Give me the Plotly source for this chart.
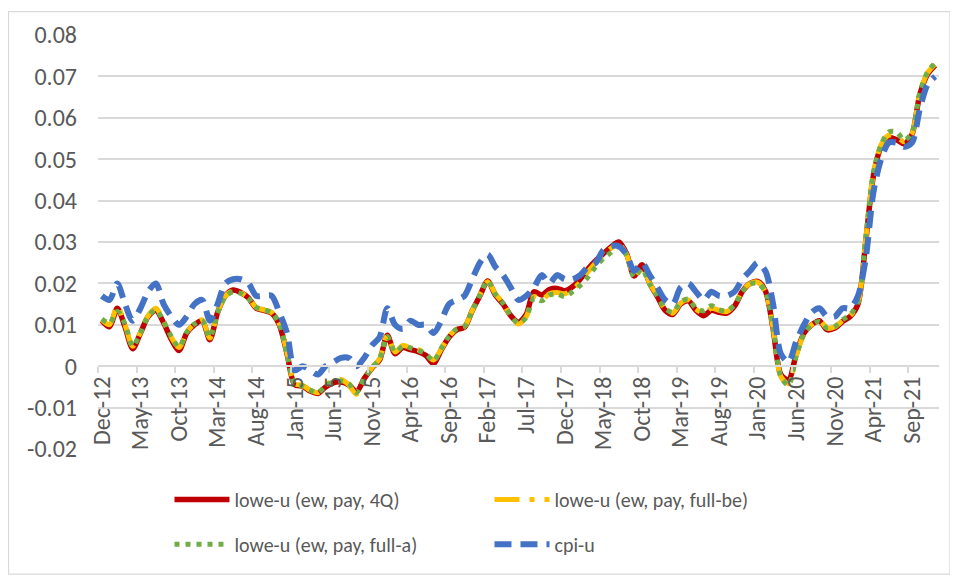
import pandas as pd
import plotly.graph_objects as go

# monthly categories, Dec-12 .. Dec-21
months = pd.date_range("2012-12-01", "2021-12-01", freq="MS").strftime("%b-%y").tolist()

lowe_4q = [
    0.0110, 0.0095, 0.0140, 0.0095, 0.0042, 0.0080, 0.0120, 0.0135, 0.0105, 0.0065, 0.0038, 0.0080, 0.0100,
    0.0110, 0.0064, 0.0130, 0.0170, 0.0184, 0.0178, 0.0165, 0.0140, 0.0135, 0.0128, 0.0100, 0.0030,
    -0.0045, -0.0048, -0.0060, -0.0066, -0.0050, -0.0040, -0.0038, -0.0045, -0.0062, -0.0030, -0.0005, 0.0015,
    0.0075, 0.0030, 0.0045, 0.0040, 0.0035, 0.0026, 0.0006, 0.0040, 0.0070, 0.0088, 0.0094, 0.0134,
    0.0170, 0.0206, 0.0172, 0.0150, 0.0122, 0.0106, 0.0125, 0.0180, 0.0172, 0.0185, 0.0188, 0.0182,
    0.0192, 0.0210, 0.0235, 0.0255, 0.0272, 0.0288, 0.0300, 0.0272, 0.0218, 0.0245, 0.0200, 0.0168,
    0.0135, 0.0125, 0.0150, 0.0158, 0.0135, 0.0122, 0.0135, 0.0130, 0.0128, 0.0145, 0.0180, 0.0200,
    0.0205, 0.0182, 0.0090, -0.0020, -0.0033, 0.0030, 0.0080, 0.0100, 0.0110, 0.0088, 0.0092, 0.0108,
    0.0120, 0.0150, 0.0300, 0.0460, 0.0530, 0.0552, 0.0547, 0.0537, 0.0560, 0.0655, 0.0705, 0.0727,
]

lowe_full_be = [
    0.0112, 0.0100, 0.0145, 0.0100, 0.0048, 0.0082, 0.0122, 0.0140, 0.0108, 0.0070, 0.0045, 0.0082, 0.0102,
    0.0112, 0.0068, 0.0130, 0.0170, 0.0182, 0.0178, 0.0165, 0.0142, 0.0136, 0.0130, 0.0102, 0.0032,
    -0.0042, -0.0046, -0.0058, -0.0064, -0.0045, -0.0035, -0.0032, -0.0045, -0.0068, -0.0032, -0.0004, 0.0018,
    0.0074, 0.0034, 0.0050, 0.0045, 0.0040, 0.0030, 0.0015, 0.0042, 0.0072, 0.0090, 0.0096, 0.0134,
    0.0172, 0.0204, 0.0175, 0.0152, 0.0120, 0.0102, 0.0120, 0.0168, 0.0160, 0.0175, 0.0178, 0.0175,
    0.0185, 0.0203, 0.0228, 0.0250, 0.0268, 0.0285, 0.0295, 0.0270, 0.0218, 0.0240, 0.0200, 0.0170,
    0.0138, 0.0128, 0.0152, 0.0160, 0.0138, 0.0128, 0.0140, 0.0135, 0.0132, 0.0148, 0.0182, 0.0200,
    0.0203, 0.0180, 0.0092, -0.0025, -0.0042, 0.0025, 0.0078, 0.0100, 0.0110, 0.0092, 0.0095, 0.0110,
    0.0122, 0.0152, 0.0305, 0.0465, 0.0535, 0.0558, 0.0555, 0.0542, 0.0562, 0.0658, 0.0708, 0.0730,
]

lowe_full_a = [
    0.0114, 0.0104, 0.0132, 0.0102, 0.0048, 0.0080, 0.0120, 0.0136, 0.0108, 0.0072, 0.0046, 0.0082, 0.0102,
    0.0110, 0.0070, 0.0128, 0.0168, 0.0180, 0.0176, 0.0163, 0.0142, 0.0136, 0.0130, 0.0102, 0.0030,
    -0.0044, -0.0048, -0.0058, -0.0064, -0.0048, -0.0038, -0.0036, -0.0042, -0.0064, -0.0030, -0.0004, 0.0018,
    0.0072, 0.0034, 0.0048, 0.0044, 0.0038, 0.0030, 0.0012, 0.0044, 0.0072, 0.0090, 0.0096, 0.0134,
    0.0172, 0.0206, 0.0174, 0.0152, 0.0122, 0.0104, 0.0118, 0.0165, 0.0158, 0.0172, 0.0175, 0.0168,
    0.0180, 0.0195, 0.0215, 0.0240, 0.0260, 0.0275, 0.0290, 0.0268, 0.0215, 0.0235, 0.0198, 0.0170,
    0.0140, 0.0130, 0.0155, 0.0162, 0.0140, 0.0134, 0.0146, 0.0136, 0.0134, 0.0148, 0.0180, 0.0198,
    0.0200, 0.0180, 0.0095, -0.0025, -0.0046, 0.0025, 0.0078, 0.0100, 0.0108, 0.0092, 0.0096, 0.0112,
    0.0125, 0.0155, 0.0310, 0.0468, 0.0535, 0.0566, 0.0566, 0.0546, 0.0565, 0.0660, 0.0710, 0.0733,
]

cpi_u = [
    0.017,
    0.016, 0.020, 0.015, 0.011, 0.014, 0.018, 0.020, 0.015, 0.012, 0.010, 0.012, 0.015,
    0.016, 0.011, 0.015, 0.020, 0.021, 0.021, 0.020, 0.017, 0.017, 0.017, 0.013, 0.008,
    -0.001, 0.000, -0.001, -0.002, 0.000, 0.001, 0.002, 0.002, 0.000, 0.002, 0.005, 0.007,
    0.014, 0.010, 0.009, 0.011, 0.010, 0.010, 0.008, 0.011, 0.015, 0.016, 0.017, 0.021,
    0.025, 0.027, 0.024, 0.022, 0.019, 0.016, 0.017, 0.019, 0.022, 0.020, 0.022, 0.021,
    0.021, 0.022, 0.024, 0.025, 0.028, 0.029, 0.029, 0.027, 0.023, 0.025, 0.022, 0.019,
    0.016, 0.015, 0.019, 0.020, 0.018, 0.016, 0.018, 0.017, 0.017, 0.018, 0.021, 0.023,
    0.025, 0.023, 0.015, 0.003, 0.001, 0.006, 0.010, 0.013, 0.014, 0.012, 0.012, 0.014,
    0.014, 0.017, 0.026, 0.042, 0.050, 0.054, 0.054, 0.053, 0.054, 0.062, 0.068, 0.070,
]

y_ticks = [-0.02, -0.01, 0, 0.01, 0.02, 0.03, 0.04, 0.05, 0.06, 0.07, 0.08]
y_tick_text = ["-0.02", "-0.01", "0", "0.01", "0.02", "0.03", "0.04", "0.05", "0.06", "0.07", "0.08"]

FONT = "Calibri, Carlito, Lato, sans-serif"
TEXT = "#595959"
GRID = "#d9d9d9"

fig = go.Figure()

fig.add_trace(go.Scatter(
    x=months, y=lowe_4q, name="lowe-u (ew, pay, 4Q)", mode="lines",
    line=dict(color="#C00000", width=5.5, shape="spline", smoothing=0.8),
    legend="legend",
))
fig.add_trace(go.Scatter(
    x=months, y=lowe_full_be, name="lowe-u (ew, pay, full-be)", mode="lines",
    line=dict(color="#FFC000", width=5, shape="spline", smoothing=0.8, dash="longdashdot"),
    legend="legend",
))
fig.add_trace(go.Scatter(
    x=months, y=lowe_full_a, name="lowe-u (ew, pay, full-a)", mode="lines",
    line=dict(color="#70AD47", width=5, shape="spline", smoothing=0.8, dash="5px,6px"),
    legend="legend2",
))
fig.add_trace(go.Scatter(
    x=months, y=cpi_u, name="cpi-u", mode="lines",
    line=dict(color="#4472C4", width=6, shape="spline", smoothing=0.8, dash="17px,9px"),
    legend="legend2",
))

legend_style = dict(
    orientation="h", xanchor="left", yanchor="middle",
    font=dict(family=FONT, size=20, color=TEXT),
    itemwidth=55, entrywidth=250, bgcolor="rgba(0,0,0,0)",
)

# the page body adds an 8px offset, so the figure is 8px smaller each way
fig.update_layout(
    width=950,
    height=569,
    margin=dict(l=90, r=19, t=24, b=128),
    paper_bgcolor="white",
    plot_bgcolor="white",
    font=dict(family=FONT, color=TEXT),
    legend=dict(x=0.085, y=-0.122, **legend_style),
    legend2=dict(x=0.085, y=-0.230, **legend_style),
    xaxis=dict(
        type="category",
        range=[-0.5, 108.5],
        tickson="boundaries",
        tick0=0,
        dtick=5,
        tickangle=-90,
        ticks="outside",
        ticklen=6,
        tickcolor=GRID,
        tickwidth=1.5,
        showline=True,
        linecolor=GRID,
        linewidth=1.5,
        showgrid=False,
        anchor="free",
        position=0.2,
        tickfont=dict(family=FONT, size=24, color=TEXT),
    ),
    yaxis=dict(
        range=[-0.02, 0.08],
        tickvals=y_ticks,
        ticktext=y_tick_text,
        showgrid=True,
        gridcolor=GRID,
        gridwidth=1.5,
        zeroline=False,
        showline=False,
        ticks="",
        ticklabelstandoff=20,
        tickfont=dict(family=FONT, size=24, color=TEXT),
    ),
)

# outer chart border
fig.add_shape(
    type="rect", xref="paper", yref="paper",
    x0=-0.1064, x1=1.013, y0=-0.302, y1=1.0564,
    line=dict(color=GRID, width=1.2), fillcolor="rgba(0,0,0,0)", layer="below",
)

fig.write_html("out.html")
